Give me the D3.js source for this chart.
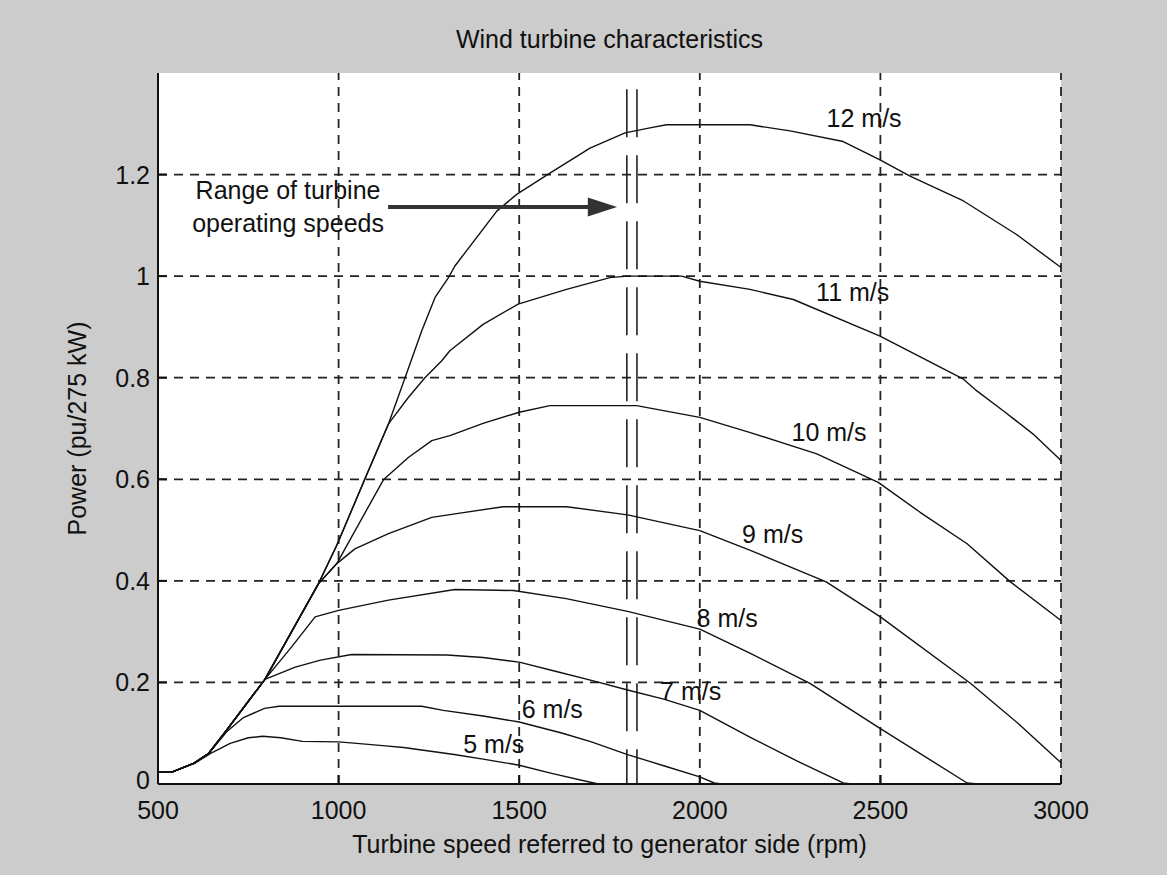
<!DOCTYPE html>
<html>
<head>
<meta charset="utf-8">
<script src="https://cdn.jsdelivr.net/npm/d3@7"></script>
<style>
    html, body { margin: 0; padding: 0; background: #cccccc; }
    svg { display: block; }
    text { font-family: "Liberation Sans", Arial, sans-serif; fill: #111; font-size: 25px; }
</style>
</head>
<body>
<div id="chart"></div>
<script>
// ===== Data =====
const speeds = [5, 6, 7, 8, 9, 10, 11, 12];

// [rpm, power pu]
const curve5 = [[500,.024],[540,.024],[600,.040],[650,.062],[700,.080],[750,.091],[790,.094],[840,.091],[900,.084],[1000,.083],[1050,.080],[1130,.075],[1180,.072],[1260,.064],[1320,.058],[1400,.049],[1500,.037],[1590,.021],[1700,.003],[1720,0],[1740,0]];
const curve6 = [[500,.024],[540,.024],[600,.041],[640,.060],[690,.103],[735,.130],[795,.149],[835,.153],[1230,.153],[1290,.145],[1400,.134],[1500,.122],[1620,.100],[1700,.083],[1800,.058],[1900,.036],[2000,.014],[2040,.002],[2060,0]];
const curve7 = [[500,.024],[540,.024],[600,.041],[640,.060],[690,.106],[745,.158],[796,.206],[880,.230],[950,.244],[1036,.255],[1300,.254],[1400,.249],[1500,.240],[1600,.222],[1700,.204],[1800,.185],[1900,.167],[2000,.145],[2140,.092],[2270,.045],[2397,.002],[2420,0]];
const curve8 = [[500,.024],[540,.024],[600,.041],[640,.060],[690,.106],[745,.158],[796,.206],[870,.270],[935,.329],[1000,.342],[1138,.362],[1322,.383],[1484,.381],[1630,.365],[1800,.340],[2000,.305],[2140,.257],[2305,.198],[2500,.109],[2740,.002],[2770,0]];
const curve9 = [[500,.024],[540,.024],[600,.041],[640,.060],[690,.106],[745,.158],[796,.206],[870,.300],[944,.394],[995,.434],[1045,.463],[1138,.493],[1258,.525],[1322,.532],[1456,.546],[1631,.546],[1800,.530],[2000,.499],[2140,.460],[2350,.398],[2500,.329],[2750,.198],[2880,.120],[3000,.042]];
const curve10 = [[500,.024],[540,.024],[600,.041],[640,.060],[690,.106],[745,.158],[796,.206],[870,.300],[944,.394],[995,.434],[1124,.599],[1193,.643],[1258,.676],[1308,.686],[1400,.710],[1500,.732],[1585,.745],[1825,.745],[2000,.722],[2140,.692],[2324,.650],[2494,.594],[2610,.535],[2740,.473],[2860,.398],[3000,.322]];
const curve11 = [[500,.024],[540,.024],[600,.041],[640,.060],[690,.106],[745,.158],[796,.206],[870,.300],[944,.394],[995,.470],[1073,.601],[1138,.709],[1193,.761],[1239,.800],[1285,.833],[1308,.853],[1400,.905],[1497,.945],[1631,.974],[1751,.997],[1800,1.0],[1950,1.0],[2000,.990],[2139,.974],[2259,.954],[2499,.882],[2730,.797],[2767,.774],[2840,.735],[2923,.689],[3000,.637]];
const curve12 = [[500,.024],[540,.024],[600,.041],[640,.060],[690,.106],[745,.158],[796,.206],[870,.300],[944,.394],[995,.470],[1073,.601],[1138,.709],[1184,.800],[1230,.892],[1267,.958],[1304,.997],[1322,1.020],[1438,1.128],[1493,1.161],[1585,1.203],[1696,1.252],[1793,1.282],[1862,1.292],[1908,1.298],[2139,1.298],[2250,1.286],[2397,1.265],[2499,1.229],[2582,1.197],[2730,1.148],[2877,1.082],[3000,1.017]];

// where each "N m/s" label sits (rpm, pu), left/baseline
const labelAt = [[1345,.061],[1507,.130],[1890,.165],[1991,.309],[2117,.474],[2254,.676],[2322,.951],[2351,1.293]];

const xTicks = [500, 1000, 1500, 2000, 2500, 3000];
const yTicks = [0, 0.2, 0.4, 0.6, 0.8, 1, 1.2];
const operatingRange = [1798, 1826];

// ===== Layout =====
const width = 1167, height = 875;
const margin = { top: 73, right: 106, bottom: 91, left: 158 };
const x = d3.scaleLinear().domain([500, 3000]).range([margin.left, width - margin.right]);
const y = d3.scaleLinear().domain([0, 1.4]).range([height - margin.bottom, margin.top]);

const svg = d3.select("#chart").append("svg")
    .attr("width", width)
    .attr("height", height);

svg.append("rect")
    .attr("width", width)
    .attr("height", height)
    .attr("fill", "#cccccc");

svg.append("rect")
    .attr("x", x(500)).attr("y", y(1.4))
    .attr("width", x(3000) - x(500))
    .attr("height", y(0) - y(1.4))
    .attr("fill", "#fff");

// grid
const grid = svg.append("g")
    .attr("stroke", "#222")
    .attr("stroke-width", 1.8)
    .attr("stroke-dasharray", "9,7");

grid.selectAll(".vgrid").data(xTicks.slice(1)).enter().append("line")
    .attr("x1", d => x(d)).attr("x2", d => x(d))
    .attr("y1", y(0)).attr("y2", y(1.4));

grid.selectAll(".hgrid").data(yTicks.slice(1)).enter().append("line")
    .attr("x1", x(500)).attr("x2", x(3000))
    .attr("y1", d => y(d)).attr("y2", d => y(d));

// operating speed range (double long-dash lines)
svg.append("g").selectAll("line").data(operatingRange).enter().append("line")
    .attr("x1", d => x(d)).attr("x2", d => x(d))
    .attr("y1", y(1.368)).attr("y2", y(0))
    .attr("stroke", "#222")
    .attr("stroke-width", 1.6)
    .attr("stroke-dasharray", "48,18");

// curves
const curves = [curve5, curve6, curve7, curve8, curve9, curve10, curve11, curve12];
const line = d3.line().x(d => x(d[0])).y(d => y(d[1]));

svg.append("g").selectAll("path").data(curves).enter().append("path")
    .attr("d", line)
    .attr("fill", "none")
    .attr("stroke", "#111")
    .attr("stroke-width", 1.4)
    .attr("stroke-linejoin", "round");

// curve labels
svg.append("g").selectAll("text").data(speeds).enter().append("text")
    .attr("x", (d, k) => x(labelAt[k][0]))
    .attr("y", (d, k) => y(labelAt[k][1]))
    .text(d => `${d} m/s`);

// axes (left and bottom only, ticks inside)
const axes = svg.append("g").attr("stroke", "#111").attr("stroke-width", 2);
axes.append("line")
    .attr("x1", x(500)).attr("x2", x(500))
    .attr("y1", y(1.4)).attr("y2", y(0));
axes.append("line")
    .attr("x1", x(500)).attr("x2", x(3000))
    .attr("y1", y(0)).attr("y2", y(0));
axes.selectAll(".xt").data(xTicks.slice(1)).enter().append("line")
    .attr("x1", d => x(d)).attr("x2", d => x(d))
    .attr("y1", y(0)).attr("y2", y(0) - 9);
axes.selectAll(".yt").data(yTicks.slice(1)).enter().append("line")
    .attr("x1", x(500)).attr("x2", x(500) + 9)
    .attr("y1", d => y(d)).attr("y2", d => y(d));

// tick labels
svg.append("g").selectAll("text").data(xTicks).enter().append("text")
    .attr("x", d => x(d))
    .attr("y", y(0) + 35)
    .attr("text-anchor", "middle")
    .text(d => d);

// the "0" sits a touch higher so it clears the "500" below it
svg.append("g").selectAll("text").data(yTicks).enter().append("text")
    .attr("x", x(500) - 8)
    .attr("y", d => y(d) + (d === 0 ? 5 : 9))
    .attr("text-anchor", "end")
    .text(d => d3.format("~g")(d));

// title and axis labels
svg.append("text")
    .attr("x", (x(500) + x(3000)) / 2)
    .attr("y", 48)
    .attr("text-anchor", "middle")
    .text("Wind turbine characteristics");

svg.append("text")
    .attr("x", (x(500) + x(3000)) / 2)
    .attr("y", 853)
    .attr("text-anchor", "middle")
    .text("Turbine speed referred to generator side (rpm)");

svg.append("text")
    .attr("transform", `translate(86,${(y(0) + y(1.4)) / 2}) rotate(-90)`)
    .attr("text-anchor", "middle")
    .text("Power (pu/275 kW)");

// annotation: range of operating speeds
const note = svg.append("g");
note.append("text")
    .attr("x", x(860)).attr("y", y(1.151))
    .attr("text-anchor", "middle")
    .text("Range of turbine");
note.append("text")
    .attr("x", x(860)).attr("y", y(1.086))
    .attr("text-anchor", "middle")
    .text("operating speeds");

const arrowY = y(1.136);
note.append("line")
    .attr("x1", x(1137)).attr("x2", x(1700))
    .attr("y1", arrowY).attr("y2", arrowY)
    .attr("stroke", "#333")
    .attr("stroke-width", 4);
note.append("path")
    .attr("d", `M${x(1771)},${arrowY}L${x(1690)},${arrowY - 9.5}L${x(1690)},${arrowY + 9.5}Z`)
    .attr("fill", "#333");
</script>
</body>
</html>
